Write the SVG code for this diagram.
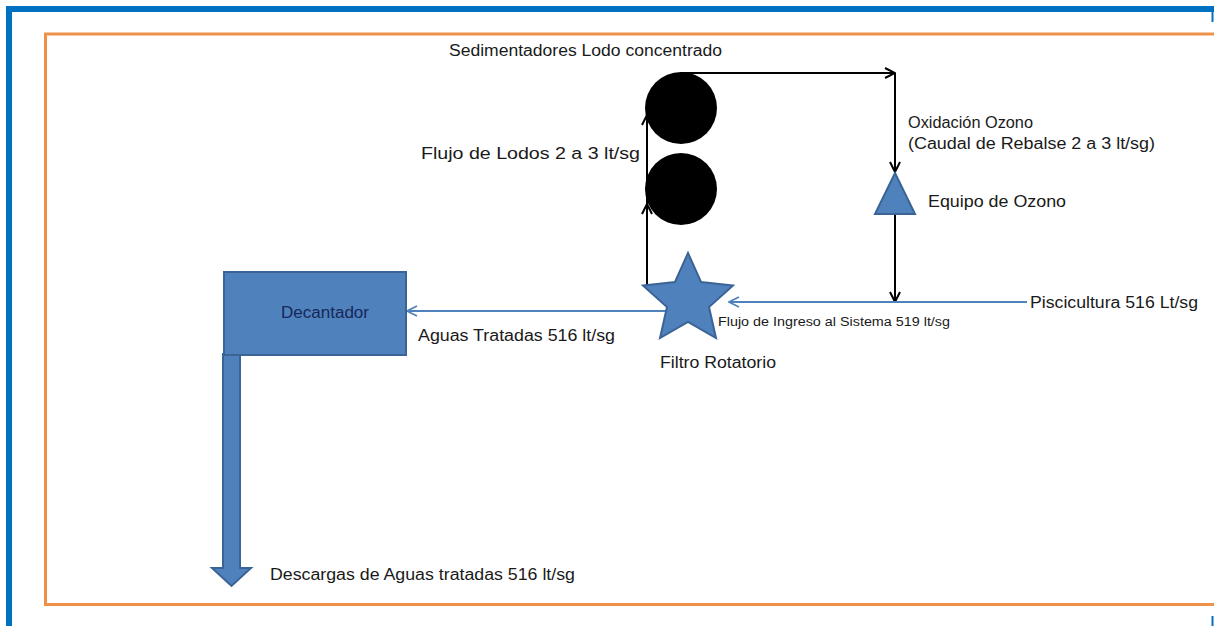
<svg xmlns="http://www.w3.org/2000/svg" width="1214" height="626" viewBox="0 0 1214 626">
  <defs>
    <style>
      text { font-family: "Liberation Sans", Arial, sans-serif; fill: #1a1a1a; font-size: 16px; }
      .blk { stroke: #000; stroke-width: 2; fill: none; }
      .blu { stroke: #4f81bd; stroke-width: 2; fill: none; }
      .shape { fill: #4f81bd; stroke: #3a6496; stroke-width: 2; }
    </style>
    <marker id="ab" viewBox="0 0 12 12" refX="11" refY="6" markerWidth="12" markerHeight="12" markerUnits="userSpaceOnUse" orient="auto">
      <path d="M1,1 L11,6 L1,11" fill="none" stroke="#000" stroke-width="2"/>
    </marker>
    <marker id="au" viewBox="0 0 12 12" refX="11" refY="6" markerWidth="12" markerHeight="12" markerUnits="userSpaceOnUse" orient="auto">
      <path d="M1,1 L11,6 L1,11" fill="none" stroke="#4f81bd" stroke-width="1.6"/>
    </marker>
  </defs>
  <rect width="1214" height="626" fill="#fff"/>
  <!-- frames -->
  <g id="frames">
    <path d="M9,626 V9 H1214" fill="none" stroke="#0070c0" stroke-width="6"/>
    <line x1="1212.5" y1="12" x2="1212.5" y2="22" stroke="#0070c0" stroke-width="2"/>
    <line x1="1212.5" y1="616" x2="1212.5" y2="626" stroke="#0070c0" stroke-width="2"/>
    <path d="M1214,34 H45.5 V604.5 H1214" fill="none" stroke="#f0914a" stroke-width="3"/>
  </g>
  <!-- connectors -->
  <g id="connectors">
    <line class="blk" x1="647" y1="288" x2="647" y2="204" marker-end="url(#ab)"/>
    <line class="blk" x1="647" y1="204" x2="647" y2="115" marker-end="url(#ab)"/>
    <line class="blk" x1="680" y1="73" x2="895" y2="73" marker-end="url(#ab)"/>
    <line class="blk" x1="895" y1="73" x2="895" y2="172" marker-end="url(#ab)"/>
    <line class="blk" x1="895" y1="215" x2="895" y2="302" marker-end="url(#ab)"/>
    <line class="blu" x1="1027" y1="302" x2="729" y2="302" marker-end="url(#au)"/>
    <line class="blu" x1="666" y1="311" x2="407" y2="311" marker-end="url(#au)"/>
    <path d="M223,354 H240 V568 H251 L231.5,586 L212,568 H223 Z" class="shape" stroke-width="1.5"/>
  </g>
  <!-- nodes -->
  <g id="sedimentador1"><circle cx="681" cy="108" r="36" fill="#000"/></g>
  <g id="sedimentador2"><circle cx="681" cy="189" r="36" fill="#000"/></g>
  <g id="equipo-ozono">
    <polygon points="895,173 915,214 875,214" class="shape" stroke-width="1.5"/>
    <text x="928" y="207" textLength="138" lengthAdjust="spacingAndGlyphs">Equipo de Ozono</text>
  </g>
  <g id="filtro-rotatorio">
    <polygon points="688,253 701,282 733,285.5 709,307 716,338 688,322 660,338 667,307 643,285.5 675,282" class="shape" stroke-width="1.5"/>
    <text x="660" y="368" textLength="116" lengthAdjust="spacingAndGlyphs">Filtro Rotatorio</text>
  </g>
  <g id="decantador">
    <rect x="224" y="272" width="182" height="83" class="shape"/>
    <text x="325" y="318" text-anchor="middle" style="fill:#17275a" textLength="88" lengthAdjust="spacingAndGlyphs">Decantador</text>
  </g>
  <!-- labels -->
  <g id="labels">
    <text x="449" y="56" textLength="273" lengthAdjust="spacingAndGlyphs">Sedimentadores Lodo concentrado</text>
    <text x="421" y="159" textLength="219" lengthAdjust="spacingAndGlyphs">Flujo de Lodos 2 a 3 lt/sg</text>
    <text x="908" y="128" textLength="125" lengthAdjust="spacingAndGlyphs">Oxidación Ozono</text>
    <text x="908" y="149" textLength="247" lengthAdjust="spacingAndGlyphs">(Caudal de Rebalse 2 a 3 lt/sg)</text>
    <text x="1030" y="308" textLength="168" lengthAdjust="spacingAndGlyphs">Piscicultura 516 Lt/sg</text>
    <text x="718" y="326" style="font-size:12px" textLength="232" lengthAdjust="spacingAndGlyphs">Flujo de Ingreso al Sistema 519 lt/sg</text>
    <text x="418" y="341" textLength="197" lengthAdjust="spacingAndGlyphs">Aguas Tratadas 516 lt/sg</text>
    <text x="270" y="580" textLength="305" lengthAdjust="spacingAndGlyphs">Descargas de Aguas tratadas 516 lt/sg</text>
  </g>
</svg>
